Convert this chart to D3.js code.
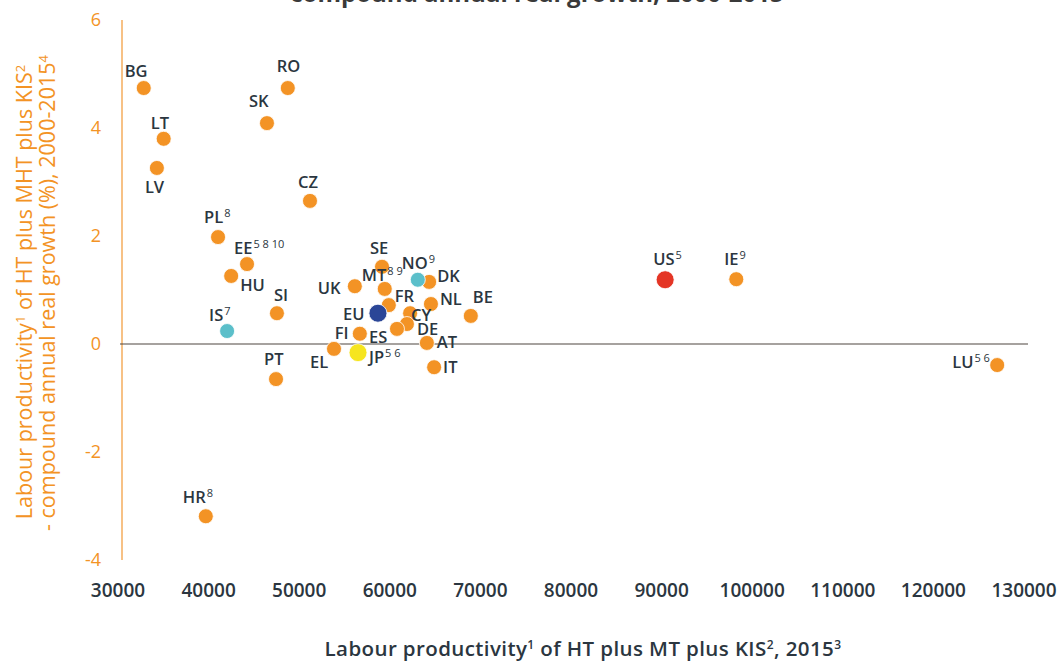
<!DOCTYPE html>
<html>
<head>
<meta charset="utf-8">
<script src="https://cdn.jsdelivr.net/npm/d3@7"></script>
<style>
  body { margin: 0; background: #ffffff; }
  svg text { font-family: "Open Sans", "Noto Sans", sans-serif; }
</style>
</head>
<body>
<div id="chart"></div>
<script>
// country codes, footnote marks and the group that sets the dot colour
const countries = ["BG","RO","SK","LT","LV","CZ","PL","EE","HU","SI","PT","HR","EL","FI","UK","SE","MT","FR","DK","NL","BE","CY","DE","ES","AT","IT","IE","LU","IS","NO","EU","US","JP"];
const notes     = ["","","","","","","8","5 8 10","","","","8","","","","","8 9","","","","","","","","","","9","5 6","7","9","","5","5 6"];
const groups    = ["c","c","c","c","c","c","c","c","c","c","c","c","c","c","c","c","c","c","c","c","c","c","c","c","c","c","c","c","efta","efta","eu","us","jp"];

// labour productivity 2015 (x) and compound annual real growth 2000-2015 (y)
const productivity = [32400,48300,46000,34600,33850,50750,40600,43800,42050,47100,47000,39250,53400,56250,55700,58700,59000,59450,63900,64100,68500,61800,61450,60350,63650,64450,97800,126600,41600,62650,58250,89950,56050];
const growth       = [4.74,4.74,4.09,3.80,3.26,2.65,1.98,1.48,1.26,0.57,-0.65,-3.19,-0.09,0.19,1.07,1.43,1.02,0.72,1.15,0.74,0.52,0.57,0.37,0.28,0.02,-0.43,1.20,-0.39,0.24,1.19,0.57,1.19,-0.16];

const xTicks = [30000,40000,50000,60000,70000,80000,90000,100000,110000,120000,130000];
const yTicks = [-4,-2,0,2,4,6];

// label placement (left x / baseline offset from the dot centre)
const labelOffsets = {
  BG:[-19,-11], RO:[-11,-16], SK:[-18,-16], LT:[-13,-10], LV:[-12,25], CZ:[-12,-13],
  PL:[-14,-14], EE:[-13,-10], HU:[9,15], SI:[-3,-12], IS:[-18,-10], PT:[-12,-14],
  HR:[-23,-13], EL:[-24,19], FI:[-25,5], JP:[11,10], EU:[-35,7], UK:[-37,8],
  SE:[-12,-13], MT:[-23,-8], FR:[6,-3], NO:[-16,-11], DK:[8,0], NL:[9,1],
  BE:[2,-13], CY:[1,8], DE:[10,11], ES:[-28,14], AT:[10,5], IT:[9,6],
  US:[-12,-15], IE:[-12,-14], LU:[-45,3]
};

const colors = { c: "#f39325", efta: "#5bbfca", eu: "#2b4697", us: "#e43525", jp: "#f6e51f" };
const radius = { c: 7.5, efta: 7.5, eu: 9, us: 9, jp: 9 };

const width = 1063, height = 662;
const x = d3.scaleLinear().domain([30000, 130000]).range([122, 1028]);
const y = d3.scaleLinear().domain([-4, 6]).range([560, 20]);

const svg = d3.select("#chart").append("svg")
    .attr("width", width)
    .attr("height", height);

const ink = "#2b3640";
const orange = "#f39325";

// writes plain/superscript pieces into a text element (shift in px)
function writeParts(sel, parts, supSize, shift) {
  let raised = false;
  parts.forEach(p => {
    const t = sel.append("tspan").text(p[0]);
    if (p[1] && !raised) { t.attr("dy", -shift).attr("font-size", supSize); raised = true; }
    else if (p[1]) { t.attr("font-size", supSize); }
    else if (raised) { t.attr("dy", shift); raised = false; }
  });
}

// title, cut off by the top edge like in the source
svg.append("text")
    .attr("x", 537).attr("y", 2)
    .attr("text-anchor", "middle")
    .attr("font-size", 24).attr("font-weight", 700)
    .attr("fill", "#3a3a3a")
    .text("compound annual real growth, 2000-2015");

// y axis line and tick labels
svg.append("line")
    .attr("x1", x(30000)).attr("x2", x(30000))
    .attr("y1", y(6)).attr("y2", y(-4))
    .attr("stroke", "#f5ad5c").attr("stroke-width", 1.5);

svg.append("g").selectAll("text")
  .data(yTicks)
  .join("text")
    .attr("x", 101)
    .attr("y", d => y(d))
    .attr("dy", "0.35em")
    .attr("text-anchor", "end")
    .attr("font-size", 18)
    .attr("fill", orange)
    .text(d => d);

// zero line
svg.append("line")
    .attr("x1", x(30000) - 2).attr("x2", x(130000))
    .attr("y1", y(0)).attr("y2", y(0))
    .attr("stroke", "#4f4640").attr("stroke-width", 1.2);

// x tick labels (no axis line in the source)
svg.append("g").selectAll("text")
  .data(xTicks)
  .join("text")
    .attr("x", d => x(d) - 4)
    .attr("y", 597)
    .attr("text-anchor", "middle")
    .attr("font-size", 19).attr("font-weight", 600)
    .attr("fill", ink)
    .text(d => d);

// axis titles
const xt = svg.append("text")
    .attr("x", 583).attr("y", 656)
    .attr("text-anchor", "middle")
    .attr("font-size", 20.5).attr("font-weight", 600)
    .attr("letter-spacing", 0.4)
    .attr("fill", ink);
writeParts(xt, [["Labour productivity"],["1",1],[" of HT plus MT plus KIS"],["2",1],[", 2015"],["3",1]], 12, 7);

const yt1 = svg.append("text")
    .attr("transform", "translate(32,292) rotate(-90)")
    .attr("text-anchor", "middle")
    .attr("font-size", 21.5)
    .attr("fill", orange);
writeParts(yt1, [["Labour productivity"],["1",1],[" of HT plus MHT plus KIS"],["2",1]], 13, 7);

const yt2 = svg.append("text")
    .attr("transform", "translate(55,293) rotate(-90)")
    .attr("text-anchor", "middle")
    .attr("font-size", 21.5)
    .attr("fill", orange);
writeParts(yt2, [["- compound annual real growth (%), 2000-2015"],["4",1]], 13, 7);

// points
const rows = countries.map((c, i) => ({ code: c, note: notes[i], group: groups[i], px: productivity[i], g: growth[i] }));

svg.append("g").selectAll("circle")
  .data(rows)
  .join("circle")
    .attr("cx", d => x(d.px))
    .attr("cy", d => y(d.g))
    .attr("r", d => radius[d.group])
    .attr("fill", d => colors[d.group])
    .attr("stroke", "#ffffff")
    .attr("stroke-width", 0.8);

// point labels
const labels = svg.append("g").selectAll("text")
  .data(rows)
  .join("text")
    .attr("x", d => x(d.px) + labelOffsets[d.code][0])
    .attr("y", d => y(d.g) + labelOffsets[d.code][1])
    .attr("font-size", 16.5).attr("font-weight", 600)
    .attr("fill", ink);

labels.each(function (d) {
  const t = d3.select(this);
  t.append("tspan").text(d.code);
  if (d.note) {
    t.append("tspan").attr("dx", 1).attr("dy", -6).attr("font-size", 11).attr("font-weight", 500).text(d.note);
  }
});
</script>
</body>
</html>
